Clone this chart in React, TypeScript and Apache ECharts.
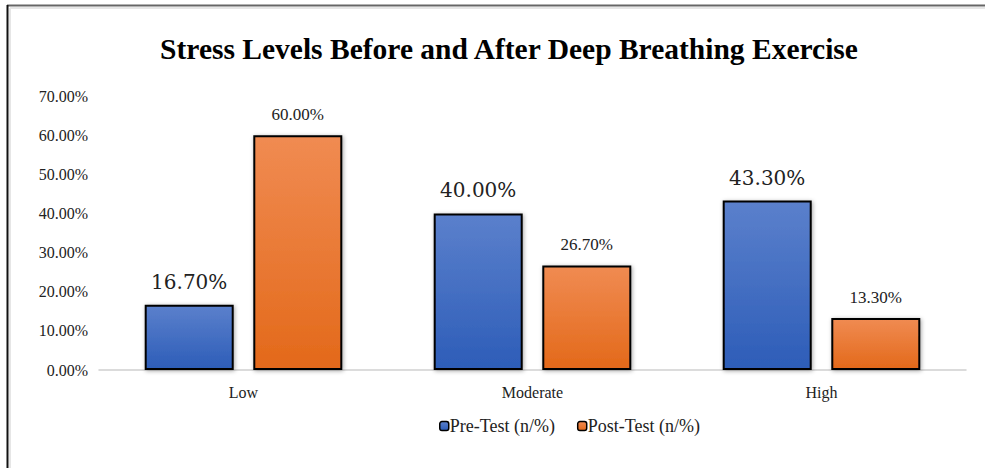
import React, { useEffect, useRef } from "react";
import * as echarts from "echarts";

const categories = ["Low", "Moderate", "High"];
const preTest = [16.7, 40.0, 43.3];
const postTest = [60.0, 26.7, 13.3];
const seriesNames = ["Pre-Test (n/%)", "Post-Test (n/%)"];
const titleText = "Stress Levels Before and After Deep Breathing Exercise";

export default function App() {
  const ref = useRef<HTMLDivElement>(null);
  useEffect(() => {
    if (!ref.current) return;
    const chart = echarts.init(ref.current, null, { renderer: "svg" });
    const serif = "'Liberation Serif', 'Times New Roman', serif";
    const blueGrad = new echarts.graphic.LinearGradient(0, 0, 0, 1, [
      { offset: 0, color: "#5b80cc" },
      { offset: 1, color: "#2d5db8" },
    ]);
    const orangeGrad = new echarts.graphic.LinearGradient(0, 0, 0, 1, [
      { offset: 0, color: "#f08b52" },
      { offset: 1, color: "#e3691a" },
    ]);
    chart.setOption({
      animation: false,
      backgroundColor: "#ffffff",
      title: {
        text: titleText,
        left: 504,
        textAlign: "center",
        top: 29,
        textStyle: { fontFamily: serif, fontWeight: "bold", fontSize: 29.5, color: "#000" },
      },
      graphic: [
        { type: "line", shape: { x1: 7, y1: 5.5, x2: 985, y2: 5.5 }, style: { stroke: "#666", lineWidth: 2 } },
        { type: "line", shape: { x1: 7.5, y1: 5, x2: 7.5, y2: 468 }, style: { stroke: "#111", lineWidth: 2 } },
        { type: "line", shape: { x1: 10, y1: 8, x2: 985, y2: 8 }, style: { stroke: "#e6e6e6", lineWidth: 2 } },
        { type: "line", shape: { x1: 10, y1: 8, x2: 10, y2: 468 }, style: { stroke: "#e6e6e6", lineWidth: 2 } },
      ],
      legend: {
        data: seriesNames,
        left: 434,
        top: 412,
        itemWidth: 9,
        itemHeight: 9,
        itemGap: 22,
        textStyle: { fontFamily: serif, fontSize: 18, color: "#222", padding: [0, 0, 0, -4] },
        itemStyle: { borderColor: "#000", borderWidth: 1.5 },
      },
      grid: { left: 99, right: 19, top: 96, bottom: 98, containLabel: false },
      xAxis: {
        type: "category",
        data: categories,
        axisLine: { lineStyle: { color: "#d0d0d0", width: 1.5 } },
        axisTick: { show: false },
        axisLabel: { fontFamily: serif, fontSize: 16, color: "#222", margin: 14 },
      },
      yAxis: {
        type: "value",
        min: 0,
        max: 70,
        interval: 10,
        splitLine: { show: false },
        axisLine: { show: false },
        axisTick: { show: false },
        axisLabel: {
          fontFamily: serif,
          fontSize: 16,
          color: "#222",
          margin: 11,
          formatter: (v: number) => v.toFixed(2) + "%",
        },
      },
      series: [
        {
          name: seriesNames[0],
          type: "bar",
          data: preTest,
          barWidth: 89,
          barGap: "22%",
          itemStyle: {
            color: blueGrad,
            borderColor: "#000",
            borderWidth: 2,
            shadowColor: "rgba(0,0,0,0.35)",
            shadowBlur: 4,
            shadowOffsetX: 1,
            shadowOffsetY: 1,
          },
          label: {
            show: true,
            position: "top",
            distance: 13,
            fontFamily: "'DejaVu Serif', serif",
            fontSize: 20,
            color: "#222",
            formatter: (p: any) => p.value.toFixed(2) + "%",
          },
        },
        {
          name: seriesNames[1],
          type: "bar",
          data: postTest,
          barWidth: 89,
          itemStyle: {
            color: orangeGrad,
            borderColor: "#000",
            borderWidth: 2,
            shadowColor: "rgba(0,0,0,0.35)",
            shadowBlur: 4,
            shadowOffsetX: 1,
            shadowOffsetY: 1,
          },
          label: {
            show: true,
            position: "top",
            distance: 12,
            fontFamily: serif,
            fontSize: 17,
            color: "#222",
            formatter: (p: any) => p.value.toFixed(2) + "%",
          },
        },
      ],
    });
    return () => chart.dispose();
  }, []);
  return (
    <div
      ref={ref}
      style={{ position: "fixed", left: 0, top: 0, width: 985, height: 468, background: "#fff" }}
    />
  );
}
